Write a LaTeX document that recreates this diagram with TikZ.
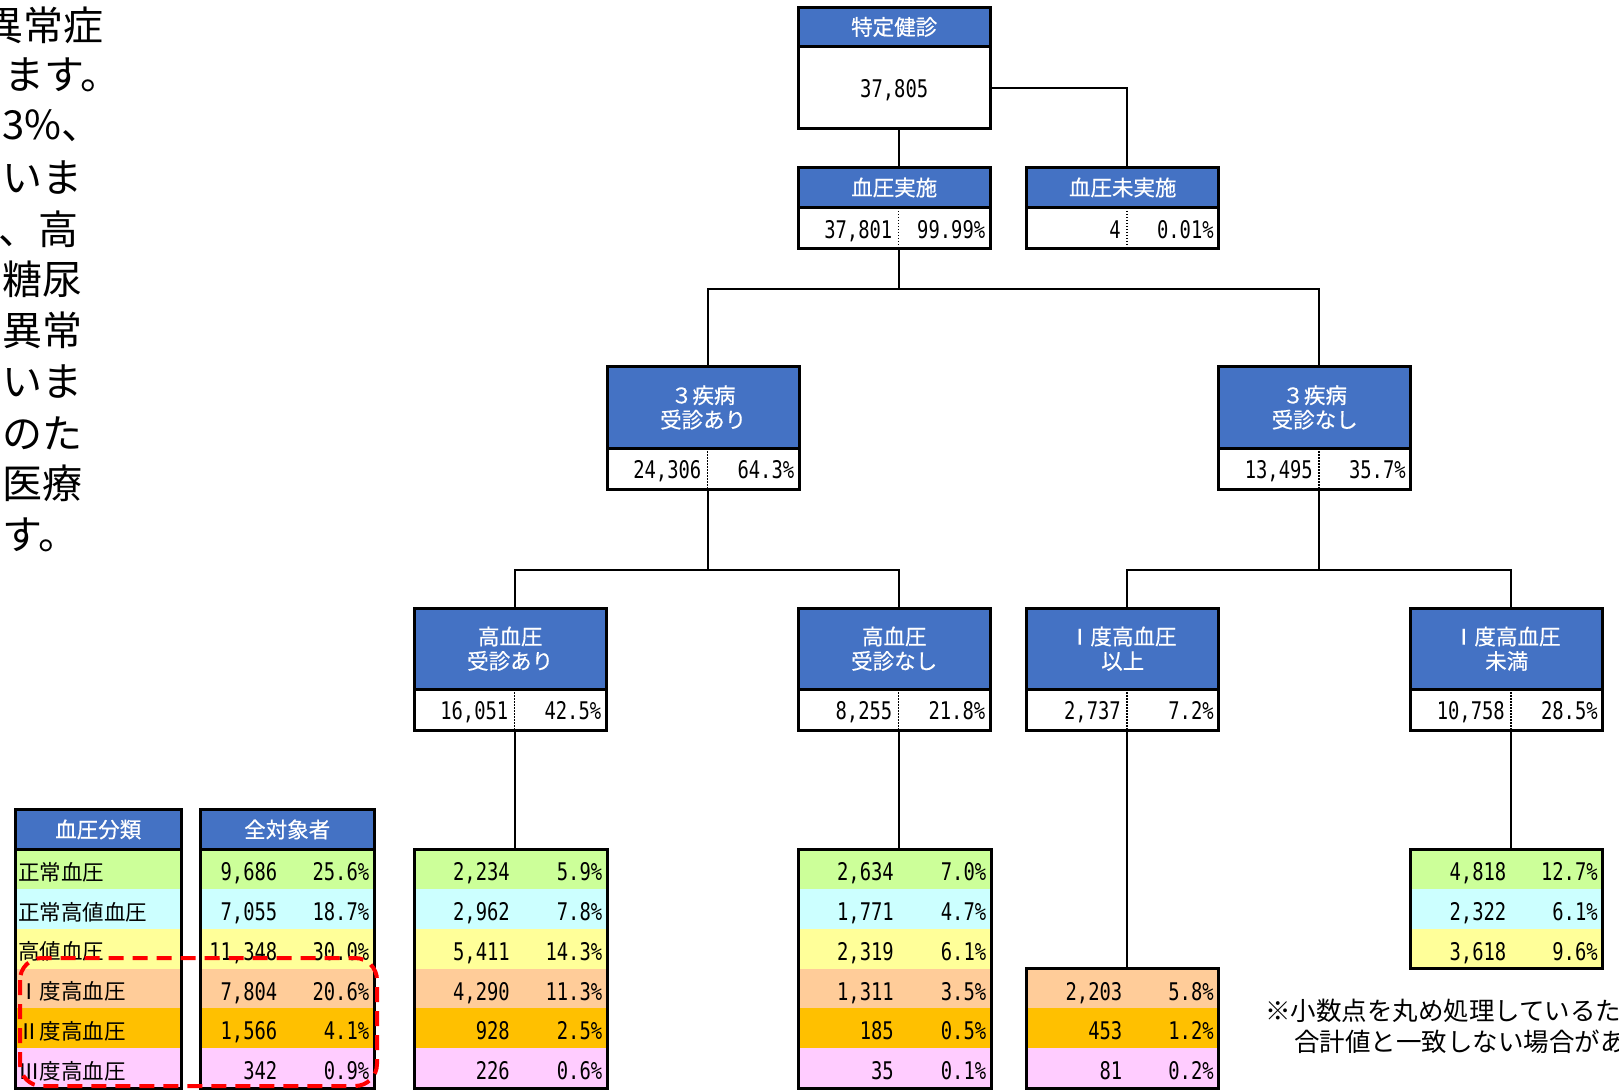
\documentclass[tikz,border=0pt]{standalone}
\usepackage{fontspec}
\setmainfont{Noto Sans CJK JP}
\newfontfamily\numfont[FakeStretch=0.775]{DejaVu Sans Mono}
\newfontfamily\hdrfont[FakeBold=0.5]{Noto Sans CJK JP}
\usetikzlibrary{calc}
\definecolor{hdr}{HTML}{4472C4}
\definecolor{rA}{HTML}{CCFF99}
\definecolor{rB}{HTML}{CCFFFF}
\definecolor{rC}{HTML}{FFFF99}
\definecolor{rD}{HTML}{FFCC99}
\definecolor{rE}{HTML}{FFC000}
\definecolor{rF}{HTML}{FFCCFF}
\definecolor{dred}{HTML}{FF0000}
\tikzset{
  hdrbox/.style={fill=hdr, draw=none, inner sep=0pt, minimum width=192pt, text=white,
    font=\hdrfont\fontsize{21.5}{24.5}\selectfont, align=center, anchor=north west},
  databox/.style={fill=white, inner sep=0pt, minimum width=192pt, anchor=north west},
  border/.style={draw=black, line width=3pt},
  conn/.style={draw=black, line width=2pt},
  divline/.style={draw=black, line width=1.3pt, dash pattern=on 1.5pt off 1.5pt},
  numtxt/.style={inner sep=0pt, anchor=base east, font=\numfont\fontsize{24.3}{24.3}\selectfont},
  lbltxt/.style={inner sep=0pt, anchor=west, font=\fontsize{21.5}{24}\selectfont},
  rowbox/.style={inner sep=0pt, anchor=north west, minimum height=39.8pt},
  paratxt/.style={inner sep=0pt, anchor=west, font=\fontsize{40}{40}\selectfont},
  notetxt/.style={inner sep=0pt, anchor=west, font=\fontsize{25.5}{25.5}\selectfont},
}
% level box: name, xl, yt, header h, data h, header text, number, percent
\newcommand\lvlbox[8]{%
  \node[hdrbox, minimum height=#4pt] (#1-h) at (#2,#3) {#6};
  \node[databox, minimum height=#5pt] (#1-d) at (#1-h.south west) {};
  \coordinate (#1-in) at ($(#1-h.north west)+(100.5,0)$);
  \coordinate (#1-out) at ($(#1-d.south west)+(100.5,0)$);
  \draw[divline] (#1-d.north west -| #1-in) -- (#1-out);
  \draw[border] (#1-h.north west) rectangle (#1-d.south east);
  \draw[border] (#1-h.south west) -- (#1-h.south east);
  \node[numtxt] at ($(#1-d.west)+(94.5,9.8)$) {#7};
  \node[numtxt] at ($(#1-d.east)+(-5,9.8)$) {#8};
}
% table row: name, x, y, width, colour, number, percent, number offset
\newcommand\trow[8]{%
  \node[rowbox, fill=#5, minimum width=#4pt] (#1) at (#2,#3) {};
  \node[numtxt] at ($(#1.west)+(#8,11.5)$) {#6};
  \node[numtxt] at ($(#1.east)+(-5,11.5)$) {#7};
}
\begin{document}
\begin{tikzpicture}[x=1pt,y=-1pt]
\clip (0,0) rectangle (1619,1090);
\fill[white] (0,0) rectangle (1619,1090);

% ---- cut-off paragraph at the left
\node[paratxt] (p1) at (-17,25) {異常症};
\node[paratxt] (p2) at (4,75) {ます。};
\node[paratxt] (p3) at (2,126) {3\%、};
\node[paratxt] (p4) at (2,178) {いま};
\node[paratxt] (p5) at (-2,229) {、高};
\node[paratxt] (p6) at (2,279) {糖尿};
\node[paratxt] (p7) at (2,330) {異常};
\node[paratxt] (p8) at (2,382) {いま};
\node[paratxt] (p9) at (2,433) {のた};
\node[paratxt] (p10) at (2,483) {医療};
\node[paratxt] (p11) at (2,535) {す。};

% ---- top box
\node[hdrbox, minimum height=39.5pt] (tk-h) at (798,7) {特定健診};
\node[databox, minimum height=81.5pt] (tk-d) at (tk-h.south west) {};
\coordinate (tk-out) at ($(tk-d.south west)+(100.5,0)$);
\draw[border] (tk-h.north west) rectangle (tk-d.south east);
\draw[border] (tk-h.south west) -- (tk-h.south east);
\node[numtxt, anchor=base] at ($(tk-d.center)+(0,9.8)$) {37,805};

% ---- boxes
\lvlbox{bj}{798}{167}{40.5}{40.5}{血圧実施}{37,801}{99.99\%}
\lvlbox{bm}{1026.5}{167}{40.5}{40.5}{血圧未実施}{4}{0.01\%}
\lvlbox{sa}{607}{366.5}{81.5}{40.5}{３疾病\\受診あり}{24,306}{64.3\%}
\lvlbox{sn}{1218.5}{366.5}{81.5}{40.5}{３疾病\\受診なし}{13,495}{35.7\%}
\lvlbox{ka}{414}{608}{81}{40.5}{高血圧\\受診あり}{16,051}{42.5\%}
\lvlbox{kn}{798}{608}{81}{40.5}{高血圧\\受診なし}{8,255}{21.8\%}
\lvlbox{ij}{1026.5}{608}{81}{40.5}{Ⅰ度高血圧\\以上}{2,737}{7.2\%}
\lvlbox{im}{1410.5}{608}{81}{40.5}{Ⅰ度高血圧\\未満}{10,758}{28.5\%}

% ---- tables
\trow{ta1}{414}{849}{193}{rA}{2,234}{5.9\%}{96}
\trow{ta2}{414}{888.8}{193}{rB}{2,962}{7.8\%}{96}
\trow{ta3}{414}{928.6}{193}{rC}{5,411}{14.3\%}{96}
\trow{ta4}{414}{968.4}{193}{rD}{4,290}{11.3\%}{96}
\trow{ta5}{414}{1008.2}{193}{rE}{928}{2.5\%}{96}
\trow{ta6}{414}{1048}{193}{rF}{226}{0.6\%}{96}
\draw[border] (ta1.north west) rectangle (ta6.south east);

\trow{tb1}{798}{849}{193}{rA}{2,634}{7.0\%}{96}
\trow{tb2}{798}{888.8}{193}{rB}{1,771}{4.7\%}{96}
\trow{tb3}{798}{928.6}{193}{rC}{2,319}{6.1\%}{96}
\trow{tb4}{798}{968.4}{193}{rD}{1,311}{3.5\%}{96}
\trow{tb5}{798}{1008.2}{193}{rE}{185}{0.5\%}{96}
\trow{tb6}{798}{1048}{193}{rF}{35}{0.1\%}{96}
\draw[border] (tb1.north west) rectangle (tb6.south east);

\trow{tc4}{1026.5}{968.4}{192}{rD}{2,203}{5.8\%}{96}
\trow{tc5}{1026.5}{1008.2}{192}{rE}{453}{1.2\%}{96}
\trow{tc6}{1026.5}{1048}{192}{rF}{81}{0.2\%}{96}
\draw[border] (tc4.north west) rectangle (tc6.south east);

\trow{td1}{1410.5}{849}{192}{rA}{4,818}{12.7\%}{96}
\trow{td2}{1410.5}{888.8}{192}{rB}{2,322}{6.1\%}{96}
\trow{td3}{1410.5}{928.6}{192}{rC}{3,618}{9.6\%}{96}
\draw[border] (td1.north west) rectangle (td3.south east);

% ---- left legend table
\node[hdrbox, minimum width=166pt, minimum height=39.5pt] (lh) at (15,809.5) {血圧分類};
\node[hdrbox, minimum width=174pt, minimum height=39.5pt] (th) at (200,809.5) {全対象者};
\node[rowbox, fill=rA, minimum width=166pt] (l1) at (15,849) {};
\node[rowbox, fill=rB, minimum width=166pt] (l2) at (15,888.8) {};
\node[rowbox, fill=rC, minimum width=166pt] (l3) at (15,928.6) {};
\node[rowbox, fill=rD, minimum width=166pt] (l4) at (15,968.4) {};
\node[rowbox, fill=rE, minimum width=166pt] (l5) at (15,1008.2) {};
\node[rowbox, fill=rF, minimum width=166pt] (l6) at (15,1048) {};
\node[lbltxt] at ($(l1.west)+(3,3)$) {正常血圧};
\node[lbltxt] at ($(l2.west)+(3,3)$) {正常高値血圧};
\node[lbltxt] at ($(l3.west)+(3,3)$) {高値血圧};
\node[lbltxt] at ($(l4.west)+(3,3)$) {Ⅰ度高血圧};
\node[lbltxt] at ($(l5.west)+(3,3)$) {Ⅱ度高血圧};
\node[lbltxt] at ($(l6.west)+(3,3)$) {Ⅲ度高血圧};
\draw[border] (lh.north west) rectangle (l6.south east);
\draw[border] (lh.south west) -- (lh.south east);

\trow{t1}{200}{849}{174}{rA}{9,686}{25.6\%}{77.5}
\trow{t2}{200}{888.8}{174}{rB}{7,055}{18.7\%}{77.5}
\trow{t3}{200}{928.6}{174}{rC}{11,348}{30.0\%}{77.5}
\trow{t4}{200}{968.4}{174}{rD}{7,804}{20.6\%}{77.5}
\trow{t5}{200}{1008.2}{174}{rE}{1,566}{4.1\%}{77.5}
\trow{t6}{200}{1048}{174}{rF}{342}{0.9\%}{77.5}
\draw[border] (th.north west) rectangle (t6.south east);
\draw[border] (th.south west) -- (th.south east);

% ---- connectors
\draw[conn] (tk-out) -- (bj-in);
\draw[conn] (tk-d.east) -| (bm-in);
\coordinate (bus1) at ($(bj-out)+(0,40)$);
\draw[conn] (bj-out) -- (bus1);
\draw[conn] (sa-in) |- (bus1) -| (sn-in);
\coordinate (bus2) at ($(sa-out)+(0,80.5)$);
\draw[conn] (sa-out) -- (bus2);
\draw[conn] (ka-in) |- (bus2) -| (kn-in);
\coordinate (bus3) at ($(sn-out)+(0,80.5)$);
\draw[conn] (sn-out) -- (bus3);
\draw[conn] (ij-in) |- (bus3) -| (im-in);
\draw[conn] (ka-out) -- (ka-out |- ta1.north);
\draw[conn] (kn-out) -- (kn-out |- tb1.north);
\draw[conn] (ij-out) -- (ij-out |- tc4.north);
\draw[conn] (im-out) -- (im-out |- td1.north);

% ---- note
\node[notetxt] (n1) at (1265,1011) {※小数点を丸め処理しているため};
\node[notetxt] (n2) at (1294,1042) {合計値と一致しない場合があります};

% ---- red dashed frame
\draw[dred, line width=4pt, dash pattern=on 15pt off 9pt, rounded corners=22pt]
  (20,958) rectangle (377,1086);
\end{tikzpicture}
\end{document}
